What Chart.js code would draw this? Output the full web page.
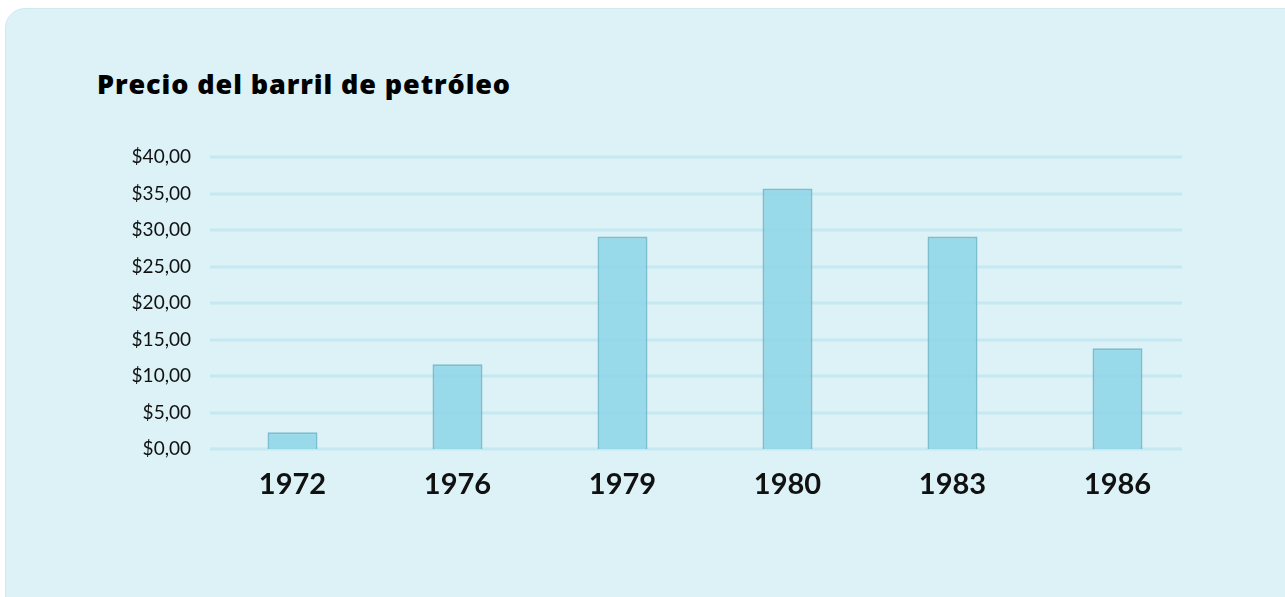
<!DOCTYPE html>
<html lang="es">
<head>
<meta charset="utf-8">
<title>Precio del barril de petróleo</title>
<script src="https://cdn.jsdelivr.net/npm/chart.js@4.4.1/dist/chart.umd.min.js"></script>
<style>
    html, body { margin: 0; padding: 0; background: #ffffff; overflow: hidden; }
    body { width: 1285px; height: 597px; position: relative; font-family: Lato, "Noto Sans", sans-serif; }
    .card {
        position: absolute; left: 5px; top: 8px; width: 1300px; height: 620px;
        background: #dcf2f7; border: 1px solid #cfe9f0; border-radius: 20px;
    }
    .card h2 {
        position: absolute; left: 91px; top: 56px; margin: 0;
        font-family: "Open Sans", sans-serif;
        font-size: 27px; font-weight: 800; color: #000; letter-spacing: 0.9px;
    }
    #chartWrap { position: absolute; left: 0; top: 0; width: 1285px; height: 597px; }
</style>
</head>
<body>
<div class="card"><h2>Precio del barril de petróleo</h2></div>
<div id="chartWrap"><canvas id="barChart"></canvas></div>
<script>
const years = ['1972', '1976', '1979', '1980', '1983', '1986'];
const prices = [2.3, 11.6, 29.1, 35.7, 29.1, 13.8];
const yTicks = [0, 5, 10, 15, 20, 25, 30, 35, 40];

// líneas horizontales dibujadas a mano para que acaben antes del borde derecho
const gridLines = {
    id: 'gridLines',
    beforeDatasetsDraw(chart) {
        const { ctx, chartArea, scales } = chart;
        ctx.save();
        ctx.strokeStyle = '#c6e8f2';
        ctx.lineWidth = 3;
        yTicks.forEach(v => {
            const y = Math.round(scales.y.getPixelForValue(v));
            ctx.beginPath();
            ctx.moveTo(chartArea.left, y);
            ctx.lineTo(chartArea.right - 18, y);
            ctx.stroke();
        });
        ctx.restore();
    }
};

const money = v => '$' + v.toFixed(2).replace('.', ',');

const barCtx = document.getElementById('barChart').getContext('2d');
new Chart(barCtx, {
    type: 'bar',
    data: {
        labels: years,
        datasets: [{
            data: prices,
            backgroundColor: 'rgba(140, 214, 232, 0.85)',
            borderColor: 'rgba(112, 184, 204, 0.9)',
            borderWidth: 2,
            barPercentage: 0.303,
            categoryPercentage: 1
        }]
    },
    options: {
        responsive: true,
        maintainAspectRatio: false,
        animation: false,
        layout: { padding: { top: 157, right: 85, left: 0, bottom: 0 } },
        plugins: { legend: { display: false }, tooltip: { enabled: false } },
        scales: {
            x: {
                grid: { display: false },
                border: { display: false },
                ticks: {
                    color: '#111',
                    padding: 10,
                    font: { family: 'Lato', size: 29, weight: 'bold' }
                },
                afterFit(scale) { scale.height = 148; }
            },
            y: {
                min: 0,
                max: 40,
                afterBuildTicks(scale) { scale.ticks = yTicks.map(v => ({ value: v })); },
                grid: { display: false },
                border: { display: false },
                ticks: {
                    color: '#111',
                    padding: 11,
                    font: { family: 'Lato', size: 19 },
                    callback: v => money(v)
                },
                afterFit(scale) { scale.width = 210; }
            }
        }
    },
    plugins: [gridLines]
});
</script>
</body>
</html>
